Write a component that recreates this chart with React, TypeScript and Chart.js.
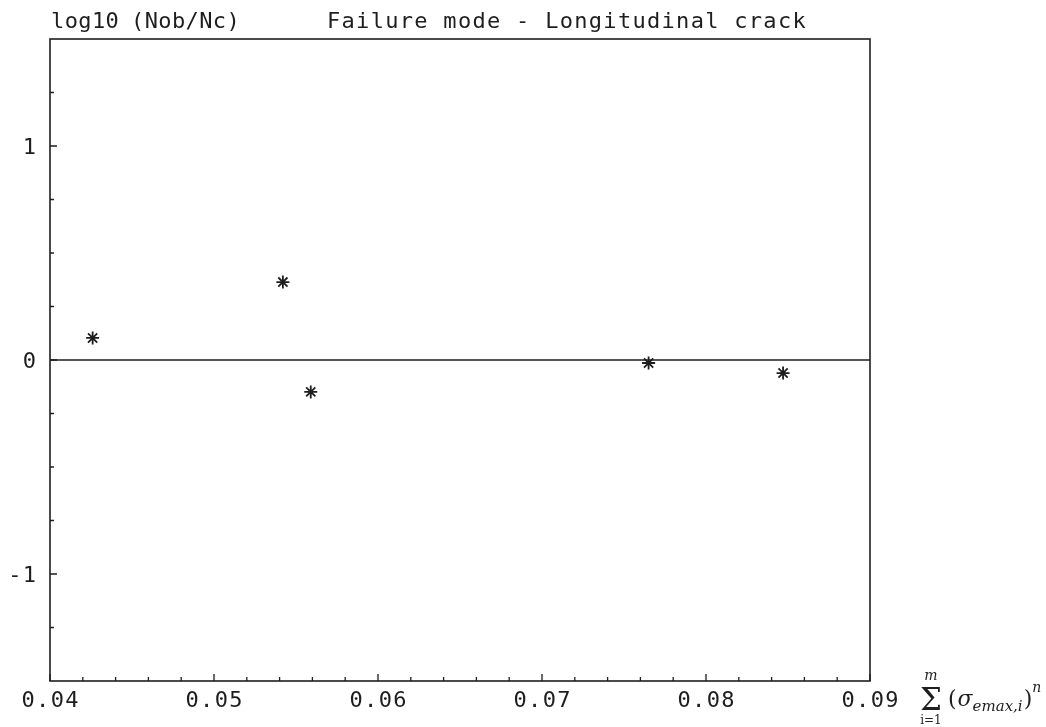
import React, { useEffect, useRef } from "react";
import { Chart, registerables } from "chart.js";

Chart.register(...registerables);

// ---- data ----
const xValues = [0.0426, 0.0542, 0.0559, 0.0765, 0.0847];
const yValues = [0.103, 0.364, -0.149, -0.014, -0.061];

const xMajorTicks = [0.04, 0.05, 0.06, 0.07, 0.08, 0.09];
const xTickLabels = ["0.04", "0.05", "0.06", "0.07", "0.08", "0.09"];
const xMinorTicks = [
  0.042, 0.044, 0.046, 0.048, 0.052, 0.054, 0.056, 0.058, 0.062, 0.064, 0.066, 0.068,
  0.072, 0.074, 0.076, 0.078, 0.082, 0.084, 0.086, 0.088,
];
const yMajorTicks = [-1, 0, 1];
const yTickLabels = ["-1", "0", "1"];
const yMinorTicks = [-1.25, -0.75, -0.5, -0.25, 0.25, 0.5, 0.75, 1.25];

const titleText = "Failure mode - Longitudinal crack";
const yLabelParts = ["log10", "(Nob/Nc)"];

const INK = "#1e1e1e";
const MONO = '"DejaVu Sans Mono", "Liberation Mono", monospace';
const SERIF = '"DejaVu Serif", "Liberation Serif", serif';

const framePlugin = {
  id: "plotterFrame",
  beforeDatasetsDraw(chart: any) {
    const { ctx, chartArea: a, scales } = chart;
    const xs = scales.x;
    const ys = scales.y;
    ctx.save();
    ctx.strokeStyle = INK;
    ctx.lineWidth = 1.6;
    ctx.strokeRect(a.left, a.top, a.right - a.left, a.bottom - a.top);
    const y0 = ys.getPixelForValue(0);
    ctx.beginPath();
    ctx.moveTo(a.left, y0);
    ctx.lineTo(a.right, y0);
    ctx.stroke();
    ctx.lineWidth = 1.3;
    ctx.beginPath();
    xMajorTicks.forEach((v) => {
      const px = xs.getPixelForValue(v);
      ctx.moveTo(px, a.bottom);
      ctx.lineTo(px, a.bottom - 7);
    });
    xMinorTicks.forEach((v) => {
      const px = xs.getPixelForValue(v);
      ctx.moveTo(px, a.bottom);
      ctx.lineTo(px, a.bottom - 4);
    });
    yMajorTicks.forEach((v) => {
      const py = ys.getPixelForValue(v);
      ctx.moveTo(a.left, py);
      ctx.lineTo(a.left + 7, py);
    });
    yMinorTicks.forEach((v) => {
      const py = ys.getPixelForValue(v);
      ctx.moveTo(a.left, py);
      ctx.lineTo(a.left + 4, py);
    });
    ctx.stroke();
    ctx.restore();
  },
  afterDraw(chart: any) {
    const { ctx, scales } = chart;
    const xs = scales.x;
    const ys = scales.y;
    ctx.save();
    ctx.fillStyle = INK;
    ctx.textBaseline = "alphabetic";
    ctx.font = `22px ${MONO}`;
    const LS = 1.3;
    (ctx as any).letterSpacing = `${LS}px`;

    xMajorTicks.forEach((v, i) => {
      const px = xs.getPixelForValue(v);
      const t = xTickLabels[i];
      const w = ctx.measureText(t).width - LS;
      ctx.fillText(t, px - w / 2, 707);
    });
    yMajorTicks.forEach((v, i) => {
      const py = ys.getPixelForValue(v);
      const t = yTickLabels[i];
      const w = ctx.measureText(t).width - LS;
      ctx.fillText(t, 36 - w, py + 8);
    });

    ctx.fillText(titleText, 327, 28);

    (ctx as any).letterSpacing = "0.4px";
    ctx.fillText(yLabelParts[0], 51, 28);
    ctx.fillText(yLabelParts[1], 131, 28);

    // x axis label: sum_{i=1}^{m} (sigma_{emax,i})^n
    (ctx as any).letterSpacing = "0px";
    ctx.font = `31px ${SERIF}`;
    const sw = ctx.measureText("\u03a3").width;
    ctx.fillText("\u03a3", 920, 710);
    const sc = 920 + sw / 2;
    ctx.textAlign = "center";
    ctx.font = `italic 14px ${SERIF}`;
    ctx.fillText("m", sc, 680);
    ctx.font = `12px ${SERIF}`;
    ctx.fillText("i=1", sc, 724);
    ctx.textAlign = "left";
    let x = 948;
    ctx.font = `22px ${SERIF}`;
    ctx.fillText("(", x, 706);
    x += ctx.measureText("(").width + 1;
    ctx.font = `italic 22px ${SERIF}`;
    ctx.fillText("\u03c3", x, 706);
    x += ctx.measureText("\u03c3").width;
    ctx.font = `italic 15px ${SERIF}`;
    ctx.fillText("emax,i", x, 711);
    x += ctx.measureText("emax,i").width + 1;
    ctx.font = `22px ${SERIF}`;
    ctx.fillText(")", x, 706);
    x += ctx.measureText(")").width;
    ctx.font = `italic 14px ${SERIF}`;
    ctx.fillText("n", x, 692);
    ctx.restore();
  },
};

export default function App() {
  const ref = useRef<HTMLCanvasElement | null>(null);
  useEffect(() => {
    if (!ref.current) return;
    const chart = new Chart(ref.current, {
      type: "scatter",
      data: {
        datasets: [
          {
            label: "log10(Nob/Nc)",
            data: xValues.map((x, i) => ({ x, y: yValues[i] })),
            pointStyle: "star",
            radius: 6.5,
            borderWidth: 1.8,
            borderColor: INK,
            backgroundColor: INK,
          },
        ],
      },
      options: {
        animation: false,
        responsive: false,
        maintainAspectRatio: false,
        layout: { padding: { left: 50, right: 176, top: 39, bottom: 46 } },
        plugins: {
          legend: { display: false },
          tooltip: { enabled: false },
          title: { display: false },
        },
        scales: {
          x: { type: "linear", min: 0.04, max: 0.09, display: false },
          y: { type: "linear", min: -1.5, max: 1.5, display: false },
        },
      },
      plugins: [framePlugin],
    });
    return () => chart.destroy();
  }, []);
  return (
    <div style={{ position: "fixed", left: 0, top: 0, width: 1046, height: 727, background: "#fff" }}>
      <canvas ref={ref} width={1046} height={727} style={{ width: 1046, height: 727, display: "block" }} />
    </div>
  );
}
